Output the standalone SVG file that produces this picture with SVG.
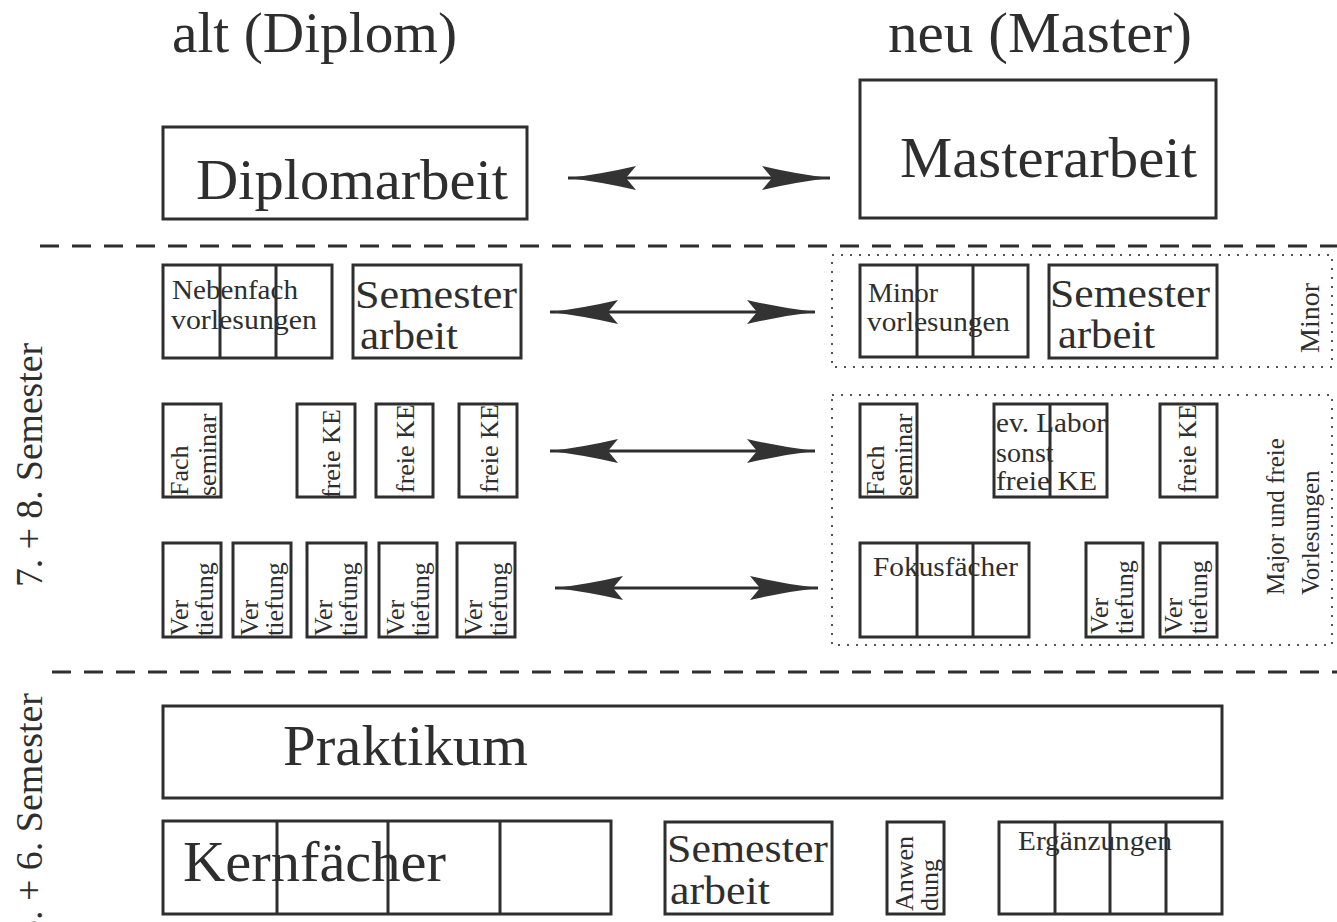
<svg xmlns="http://www.w3.org/2000/svg" width="1337" height="922" viewBox="0 0 1337 922">
<defs>
<style>
.bx{fill:none;stroke:#2e2e2e;stroke-width:3}
.dv{stroke:#2e2e2e;stroke-width:3}
.t{font-family:"Liberation Serif","Times New Roman",serif;fill:#2e2e2e}
.big{font-size:57px}
.mid{font-size:40px}
.sm{font-size:28px}
.rs{font-size:26px}
.lbl{font-size:38px}
.dash{stroke:#2e2e2e;stroke-width:3;stroke-dasharray:19 13;fill:none}
.dot{fill:none;stroke:#555;stroke-width:2;stroke-dasharray:2 7}
.arr{stroke:#2e2e2e;stroke-width:3;fill:none;marker-start:url(#ah);marker-end:url(#ah)}
</style>
<marker id="ah" viewBox="0 -12 68 24" refX="68" refY="0" markerWidth="68" markerHeight="24" markerUnits="userSpaceOnUse" orient="auto-start-reverse">
<path d="M68,0 Q34,-4 0,-12 L10,0 L0,12 Q34,4 68,0 Z" fill="#333"/>
</marker>
</defs>
<rect width="1337" height="922" fill="#fff"/>

<g id="headers">
<text class="t big" x="172" y="52" textLength="285" lengthAdjust="spacingAndGlyphs">alt (Diplom)</text>
<text class="t big" x="888" y="52" textLength="304" lengthAdjust="spacingAndGlyphs">neu (Master)</text>
</g>

<g id="separators">
<line class="dash" x1="40" y1="246" x2="1337" y2="246"/>
<line class="dash" x1="52" y1="672" x2="1337" y2="672"/>
<rect class="dot" x="832" y="255" width="500" height="112"/>
<rect class="dot" x="832" y="395" width="500" height="250"/>
</g>

<g id="semester-labels">
<text class="t lbl" transform="translate(42,587) rotate(-90)" textLength="244" lengthAdjust="spacingAndGlyphs">7. + 8. Semester</text>
<text class="t lbl" transform="translate(42,939) rotate(-90)" textLength="246" lengthAdjust="spacingAndGlyphs">5. + 6. Semester</text>
<text class="t" style="font-size:28px" transform="translate(1319,353) rotate(-90)">Minor</text>
<text class="t" style="font-size:25px" transform="translate(1284,595) rotate(-90)"><tspan x="0" y="0">Major und freie</tspan><tspan x="0" y="35">Vorlesungen</tspan></text>
</g>

<g id="diplomarbeit">
<rect class="bx" x="163" y="127" width="364" height="92"/>
<text class="t big" x="196" y="199" textLength="312" lengthAdjust="spacingAndGlyphs">Diplomarbeit</text>
</g>
<g id="masterarbeit">
<rect class="bx" x="860" y="80" width="356" height="138"/>
<text class="t big" x="900" y="177" textLength="297" lengthAdjust="spacingAndGlyphs">Masterarbeit</text>
</g>

<g id="nebenfach">
<rect class="bx" x="163" y="265" width="169" height="93"/>
<line class="dv" x1="220" y1="265" x2="220" y2="358"/>
<line class="dv" x1="276" y1="265" x2="276" y2="358"/>
<text class="t sm" x="172" y="299" textLength="126" lengthAdjust="spacingAndGlyphs">Nebenfach</text>
<text class="t sm" x="171" y="329" textLength="146" lengthAdjust="spacingAndGlyphs">vorlesungen</text>
</g>
<g id="semesterarbeit-alt">
<rect class="bx" x="353" y="265" width="168" height="93"/>
<text class="t mid" x="355" y="308" textLength="162" lengthAdjust="spacingAndGlyphs">Semester</text>
<text class="t mid" x="360" y="349" textLength="98" lengthAdjust="spacingAndGlyphs">arbeit</text>
</g>

<g id="minor-vorlesungen">
<rect class="bx" x="860" y="265" width="168" height="92"/>
<line class="dv" x1="917" y1="265" x2="917" y2="357"/>
<line class="dv" x1="973" y1="265" x2="973" y2="357"/>
<text class="t sm" x="868" y="302" textLength="70" lengthAdjust="spacingAndGlyphs">Minor</text>
<text class="t sm" x="867" y="331" textLength="143" lengthAdjust="spacingAndGlyphs">vorlesungen</text>
</g>
<g id="semesterarbeit-neu">
<rect class="bx" x="1049" y="265" width="168" height="93"/>
<text class="t mid" x="1050" y="307" textLength="160" lengthAdjust="spacingAndGlyphs">Semester</text>
<text class="t mid" x="1058" y="348" textLength="97" lengthAdjust="spacingAndGlyphs">arbeit</text>
</g>

<g id="fachseminar-alt">
<rect class="bx" x="163" y="404" width="58" height="93"/>
<text class="t rs" transform="translate(188,496) rotate(-90)"><tspan x="0" y="0">Fach</tspan><tspan x="0" y="28">seminar</tspan></text>
</g>
<g id="freieKE-alt-1">
<rect class="bx" x="297" y="404" width="58" height="93"/>
<text class="t rs" transform="translate(340,498) rotate(-90)">freie KE</text>
</g>
<g id="freieKE-alt-2">
<rect class="bx" x="376" y="404" width="57" height="93"/>
<text class="t rs" transform="translate(414,493) rotate(-90)">freie KE</text>
</g>
<g id="freieKE-alt-3">
<rect class="bx" x="459" y="404" width="58" height="93"/>
<text class="t rs" transform="translate(498,493) rotate(-90)">freie KE</text>
</g>

<g id="fachseminar-neu">
<rect class="bx" x="860" y="404" width="57" height="93"/>
<text class="t rs" transform="translate(884,496) rotate(-90)"><tspan x="0" y="0">Fach</tspan><tspan x="0" y="28">seminar</tspan></text>
</g>
<g id="labor">
<rect class="bx" x="994" y="404" width="113" height="93"/>
<line class="dv" x1="1050" y1="404" x2="1050" y2="497"/>
<text class="t sm" x="996" y="432" textLength="110" lengthAdjust="spacingAndGlyphs">ev. Labor</text>
<text class="t sm" x="996" y="462">sonst</text>
<text class="t sm" x="996" y="490" textLength="101" lengthAdjust="spacingAndGlyphs">freie KE</text>
</g>
<g id="freieKE-neu">
<rect class="bx" x="1160" y="404" width="57" height="93"/>
<text class="t rs" transform="translate(1196,493) rotate(-90)">freie KE</text>
</g>

<g id="vertiefung-alt-1">
<rect class="bx" x="163" y="543" width="58" height="94"/>
<text class="t rs" transform="translate(188,636) rotate(-90)"><tspan x="0" y="0">Ver</tspan><tspan x="0" y="25">tiefung</tspan></text>
</g>
<g id="vertiefung-alt-2">
<rect class="bx" x="233" y="543" width="58" height="94"/>
<text class="t rs" transform="translate(258,636) rotate(-90)"><tspan x="0" y="0">Ver</tspan><tspan x="0" y="25">tiefung</tspan></text>
</g>
<g id="vertiefung-alt-3">
<rect class="bx" x="307" y="543" width="59" height="94"/>
<text class="t rs" transform="translate(332,636) rotate(-90)"><tspan x="0" y="0">Ver</tspan><tspan x="0" y="25">tiefung</tspan></text>
</g>
<g id="vertiefung-alt-4">
<rect class="bx" x="379" y="543" width="58" height="94"/>
<text class="t rs" transform="translate(404,636) rotate(-90)"><tspan x="0" y="0">Ver</tspan><tspan x="0" y="25">tiefung</tspan></text>
</g>
<g id="vertiefung-alt-5">
<rect class="bx" x="457" y="543" width="58" height="94"/>
<text class="t rs" transform="translate(482,636) rotate(-90)"><tspan x="0" y="0">Ver</tspan><tspan x="0" y="25">tiefung</tspan></text>
</g>

<g id="fokusfaecher">
<rect class="bx" x="860" y="543" width="169" height="94"/>
<line class="dv" x1="917" y1="543" x2="917" y2="637"/>
<line class="dv" x1="973" y1="543" x2="973" y2="637"/>
<text class="t sm" x="873" y="576" textLength="145" lengthAdjust="spacingAndGlyphs">Fokusfächer</text>
</g>
<g id="vertiefung-neu-1">
<rect class="bx" x="1086" y="543" width="57" height="94"/>
<text class="t rs" transform="translate(1108,634) rotate(-90)"><tspan x="0" y="0">Ver</tspan><tspan x="0" y="25">tiefung</tspan></text>
</g>
<g id="vertiefung-neu-2">
<rect class="bx" x="1160" y="543" width="57" height="94"/>
<text class="t rs" transform="translate(1182,634) rotate(-90)"><tspan x="0" y="0">Ver</tspan><tspan x="0" y="25">tiefung</tspan></text>
</g>

<g id="praktikum">
<rect class="bx" x="163" y="706" width="1059" height="92"/>
<text class="t big" x="283" y="765" textLength="245" lengthAdjust="spacingAndGlyphs">Praktikum</text>
</g>
<g id="kernfaecher">
<rect class="bx" x="163" y="821" width="448" height="93"/>
<line class="dv" x1="277" y1="821" x2="277" y2="914"/>
<line class="dv" x1="388" y1="821" x2="388" y2="914"/>
<line class="dv" x1="500" y1="821" x2="500" y2="914"/>
<text class="t big" x="183" y="881" textLength="263" lengthAdjust="spacingAndGlyphs">Kernfächer</text>
</g>
<g id="semesterarbeit-bachelor">
<rect class="bx" x="665" y="822" width="167" height="92"/>
<text class="t mid" x="667" y="862" textLength="161" lengthAdjust="spacingAndGlyphs">Semester</text>
<text class="t mid" x="670" y="904" textLength="100" lengthAdjust="spacingAndGlyphs">arbeit</text>
</g>
<g id="anwendung">
<rect class="bx" x="887" y="822" width="57" height="92"/>
<text class="t rs" transform="translate(913,911) rotate(-90)"><tspan x="0" y="0">Anwen</tspan><tspan x="0" y="25">dung</tspan></text>
</g>
<g id="ergaenzungen">
<rect class="bx" x="999" y="822" width="223" height="92"/>
<line class="dv" x1="1055" y1="822" x2="1055" y2="914"/>
<line class="dv" x1="1110" y1="822" x2="1110" y2="914"/>
<line class="dv" x1="1166" y1="822" x2="1166" y2="914"/>
<text class="t sm" x="1018" y="850" textLength="154" lengthAdjust="spacingAndGlyphs">Ergänzungen</text>
</g>

<g id="connectors">
<line class="arr" x1="568" y1="178" x2="830" y2="178"/>
<line class="arr" x1="550" y1="312" x2="815" y2="312"/>
<line class="arr" x1="550" y1="451" x2="815" y2="451"/>
<line class="arr" x1="555" y1="588" x2="818" y2="588"/>
</g>
</svg>
